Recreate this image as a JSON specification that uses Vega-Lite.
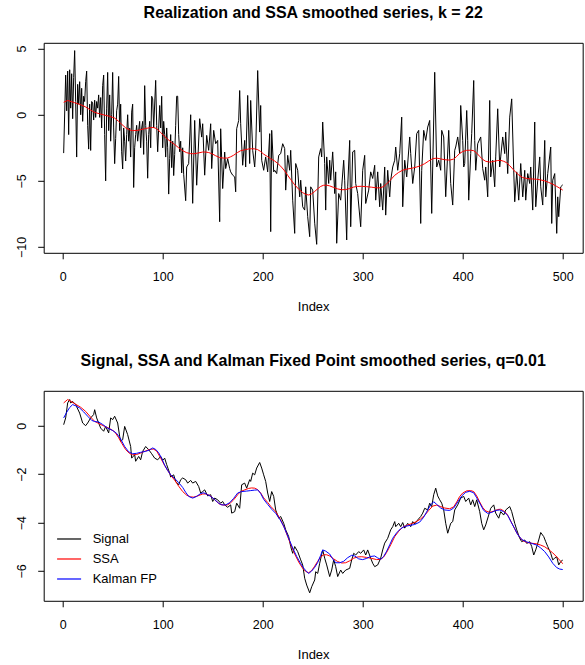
{
"$schema": "https://vega.github.io/schema/vega-lite/v6.json",
"background": "white",
"padding": {"left": 14.7, "top": 4.8, "right": 0, "bottom": 0},
"datasets": {
"real": [
{"i":1,"v":-2.9},{"i":3,"v":3.0},{"i":4,"v":0.3},{"i":5,"v":3.3},{"i":6,"v":-1.5},{"i":7,"v":3.4},{"i":8,"v":0.5},{"i":9,"v":3.1},{"i":10,"v":-0.3},{"i":11,"v":2.8},{"i":12,"v":4.85},{"i":13,"v":1.0},{"i":14,"v":-3.2},{"i":15,"v":2.3},{"i":16,"v":0.8},{"i":17,"v":2.5},{"i":18,"v":0.0},{"i":19,"v":2.0},{"i":20,"v":-0.5},{"i":21,"v":1.4},{"i":22,"v":1.0},{"i":23,"v":2.5},{"i":24,"v":3.3},{"i":25,"v":-0.8},{"i":26,"v":-2.6},{"i":27,"v":0.8},{"i":28,"v":-2.7},{"i":29,"v":1.0},{"i":30,"v":0.9},{"i":31,"v":-0.4},{"i":32,"v":1.1},{"i":33,"v":-0.2},{"i":34,"v":1.0},{"i":35,"v":0.5},{"i":36,"v":1.5},{"i":37,"v":-0.2},{"i":38,"v":1.3},{"i":39,"v":-1.0},{"i":40,"v":2.2},{"i":41,"v":3.0},{"i":42,"v":-1.5},{"i":43,"v":-5.0},{"i":44,"v":0.5},{"i":45,"v":3.2},{"i":46,"v":-1.2},{"i":47,"v":1.5},{"i":48,"v":-2.0},{"i":49,"v":0.0},{"i":50,"v":3.2},{"i":51,"v":-1.0},{"i":52,"v":-3.7},{"i":53,"v":-1.8},{"i":54,"v":0.3},{"i":55,"v":0.8},{"i":56,"v":2.9},{"i":57,"v":-1.2},{"i":58,"v":0.8},{"i":59,"v":-2.8},{"i":60,"v":-4.1},{"i":61,"v":-1.0},{"i":62,"v":-2.0},{"i":63,"v":-3.5},{"i":64,"v":-1.5},{"i":65,"v":0.0},{"i":66,"v":-2.0},{"i":67,"v":-1.0},{"i":68,"v":-3.2},{"i":69,"v":0.2},{"i":70,"v":0.8},{"i":71,"v":-5.5},{"i":72,"v":-2.5},{"i":73,"v":-1.5},{"i":74,"v":-0.8},{"i":75,"v":-2.0},{"i":76,"v":-1.2},{"i":77,"v":-0.5},{"i":78,"v":-2.5},{"i":79,"v":-1.0},{"i":80,"v":-0.5},{"i":81,"v":-3.0},{"i":82,"v":2.2},{"i":83,"v":-0.8},{"i":84,"v":-2.0},{"i":85,"v":-4.8},{"i":86,"v":-1.5},{"i":87,"v":-0.5},{"i":88,"v":-2.5},{"i":89,"v":1.4},{"i":90,"v":1.2},{"i":91,"v":-1.0},{"i":93,"v":2.6},{"i":94,"v":-0.8},{"i":95,"v":-2.8},{"i":96,"v":-1.0},{"i":97,"v":0.7},{"i":98,"v":-1.0},{"i":99,"v":1.4},{"i":100,"v":-2.5},{"i":101,"v":-0.5},{"i":102,"v":-1.5},{"i":103,"v":-3.2},{"i":104,"v":-1.0},{"i":105,"v":-2.5},{"i":106,"v":-6.0},{"i":107,"v":-3.3},{"i":108,"v":-1.5},{"i":109,"v":-4.0},{"i":110,"v":-2.0},{"i":111,"v":-4.6},{"i":112,"v":-3.0},{"i":113,"v":-0.8},{"i":114,"v":1.4},{"i":115,"v":1.4},{"i":116,"v":-1.5},{"i":117,"v":-2.8},{"i":118,"v":-2.0},{"i":119,"v":-4.4},{"i":120,"v":-2.5},{"i":121,"v":-4.5},{"i":123,"v":-6.5},{"i":124,"v":-3.95},{"i":126,"v":-3.7},{"i":128,"v":0.0},{"i":130,"v":-6.7},{"i":132,"v":-0.43},{"i":134,"v":-5.33},{"i":137,"v":-0.3},{"i":139,"v":-1.69},{"i":140,"v":-0.68},{"i":142,"v":-4.57},{"i":144,"v":-1.56},{"i":146,"v":-2.69},{"i":148,"v":-0.68},{"i":149,"v":-4.07},{"i":151,"v":-1.18},{"i":153,"v":-2.19},{"i":155,"v":-1.94},{"i":157,"v":-8.09},{"i":158,"v":-1.06},{"i":160,"v":-5.58},{"i":162,"v":-2.82},{"i":163,"v":-4.07},{"i":165,"v":-3.32},{"i":167,"v":-4.07},{"i":168,"v":-4.32},{"i":170,"v":-4.57},{"i":172,"v":-4.7},{"i":173,"v":-5.83},{"i":174,"v":-1.06},{"i":176,"v":-0.43},{"i":177,"v":1.83},{"i":178,"v":-0.68},{"i":180,"v":-3.82},{"i":182,"v":-1.94},{"i":183,"v":-3.95},{"i":185,"v":1.46},{"i":187,"v":-3.69},{"i":188,"v":1.08},{"i":190,"v":-2.69},{"i":192,"v":-3.95},{"i":193,"v":-2.69},{"i":195,"v":3.34},{"i":197,"v":-1.31},{"i":198,"v":0.7},{"i":199,"v":-3.44},{"i":201,"v":-4.2},{"i":203,"v":-3.19},{"i":205,"v":-4.32},{"i":207,"v":-1.43},{"i":208,"v":-8.84},{"i":209,"v":-1.18},{"i":211,"v":-4.32},{"i":212,"v":-4.2},{"i":214,"v":-4.45},{"i":216,"v":-3.07},{"i":218,"v":-2.94},{"i":220,"v":-2.19},{"i":222,"v":-2.56},{"i":223,"v":-5.7},{"i":225,"v":-3.07},{"i":227,"v":-4.2},{"i":228,"v":-2.69},{"i":230,"v":-6.46},{"i":232,"v":-8.97},{"i":233,"v":-3.69},{"i":235,"v":-4.2},{"i":237,"v":-6.21},{"i":238,"v":-4.95},{"i":240,"v":-6.96},{"i":242,"v":-7.21},{"i":243,"v":-5.45},{"i":245,"v":-7.71},{"i":247,"v":-9.22},{"i":248,"v":-5.45},{"i":250,"v":-5.7},{"i":252,"v":-8.2},{"i":254,"v":-9.8},{"i":256,"v":-3.19},{"i":258,"v":-2.56},{"i":259,"v":-3.19},{"i":260,"v":-0.55},{"i":262,"v":-3.69},{"i":263,"v":-7.21},{"i":264,"v":-3.19},{"i":266,"v":-5.2},{"i":267,"v":-3.44},{"i":268,"v":-4.95},{"i":270,"v":-2.81},{"i":272,"v":-5.96},{"i":273,"v":-4.32},{"i":274,"v":-9.72},{"i":276,"v":-5.96},{"i":278,"v":-6.46},{"i":279,"v":-5.45},{"i":281,"v":-3.44},{"i":282,"v":-4.95},{"i":284,"v":-9.47},{"i":285,"v":-5.45},{"i":287,"v":-1.94},{"i":288,"v":-8.47},{"i":290,"v":-2.81},{"i":292,"v":-2.69},{"i":293,"v":-5.2},{"i":295,"v":-5.96},{"i":298,"v":-8.47},{"i":300,"v":-4.2},{"i":302,"v":-3.07},{"i":303,"v":-6.71},{"i":306,"v":-5.7},{"i":308,"v":-4.32},{"i":310,"v":-4.82},{"i":312,"v":-3.82},{"i":313,"v":-6.46},{"i":315,"v":-4.32},{"i":317,"v":-6.96},{"i":318,"v":-5.2},{"i":320,"v":-7.21},{"i":322,"v":-3.95},{"i":323,"v":-7.59},{"i":325,"v":-4.2},{"i":327,"v":-6.21},{"i":328,"v":-4.95},{"i":330,"v":-3.95},{"i":332,"v":-3.44},{"i":333,"v":-2.44},{"i":335,"v":-4.2},{"i":337,"v":-2.94},{"i":339,"v":-0.18},{"i":340,"v":-6.96},{"i":342,"v":-3.44},{"i":344,"v":-4.7},{"i":347,"v":-1.68},{"i":348,"v":-2.94},{"i":350,"v":-5.2},{"i":352,"v":-3.95},{"i":354,"v":-1.43},{"i":356,"v":-1.18},{"i":358,"v":-8.22},{"i":359,"v":-4.2},{"i":361,"v":-1.18},{"i":363,"v":-1.94},{"i":365,"v":-0.93},{"i":367,"v":-0.43},{"i":369,"v":-7.46},{"i":370,"v":-3.95},{"i":372,"v":3.21},{"i":374,"v":-3.95},{"i":376,"v":-3.44},{"i":378,"v":-4.2},{"i":379,"v":-1.18},{"i":381,"v":-1.68},{"i":383,"v":-6.2},{"i":386,"v":-1.18},{"i":388,"v":-5.2},{"i":390,"v":-6.83},{"i":392,"v":-2.69},{"i":393,"v":-2.44},{"i":395,"v":-1.68},{"i":397,"v":-2.94},{"i":398,"v":0.7},{"i":400,"v":-1.94},{"i":401,"v":-3.95},{"i":402,"v":-3.69},{"i":404,"v":0.32},{"i":405,"v":-1.94},{"i":406,"v":-6.46},{"i":408,"v":-2.94},{"i":409,"v":-1.43},{"i":411,"v":2.59},{"i":412,"v":-1.94},{"i":413,"v":-4.2},{"i":415,"v":-2.19},{"i":418,"v":-1.68},{"i":420,"v":-4.07},{"i":422,"v":-4.95},{"i":423,"v":-3.95},{"i":425,"v":-6.21},{"i":427,"v":1.08},{"i":428,"v":-4.7},{"i":430,"v":-3.44},{"i":432,"v":-5.45},{"i":433,"v":-3.19},{"i":435,"v":0.45},{"i":437,"v":-3.95},{"i":438,"v":-3.19},{"i":440,"v":-1.68},{"i":442,"v":-2.94},{"i":443,"v":-1.31},{"i":445,"v":-4.45},{"i":447,"v":-0.18},{"i":449,"v":1.2},{"i":451,"v":-4.2},{"i":452,"v":-6.58},{"i":454,"v":-4.32},{"i":456,"v":-6.46},{"i":458,"v":-3.69},{"i":460,"v":-6.21},{"i":462,"v":-4.2},{"i":463,"v":-6.46},{"i":465,"v":-4.45},{"i":467,"v":-5.2},{"i":468,"v":-3.95},{"i":470,"v":-7.21},{"i":472,"v":-0.55},{"i":473,"v":-6.96},{"i":475,"v":-4.95},{"i":477,"v":-3.19},{"i":478,"v":-5.45},{"i":480,"v":-6.83},{"i":482,"v":-1.94},{"i":483,"v":-6.21},{"i":485,"v":-4.45},{"i":488,"v":-2.44},{"i":489,"v":-8.22},{"i":490,"v":-4.95},{"i":492,"v":-4.45},{"i":494,"v":-8.97},{"i":495,"v":-6.21},{"i":496,"v":-7.71},{"i":498,"v":-5.45},{"i":500,"v":-5.3}
],
"ssa": [
{"i":1,"v":0.94},{"i":5,"v":1.08},{"i":12,"v":0.91},{"i":18,"v":0.76},{"i":23,"v":0.59},{"i":28,"v":0.35},{"i":32,"v":0.18},{"i":37,"v":0.07},{"i":42,"v":-0.03},{"i":47,"v":-0.12},{"i":52,"v":-0.25},{"i":56,"v":-0.5},{"i":59,"v":-0.72},{"i":63,"v":-0.99},{"i":67,"v":-1.15},{"i":70,"v":-1.2},{"i":74,"v":-1.19},{"i":78,"v":-1.13},{"i":83,"v":-1.04},{"i":88,"v":-0.97},{"i":91,"v":-0.97},{"i":94,"v":-1.05},{"i":98,"v":-1.34},{"i":102,"v":-1.65},{"i":105,"v":-1.85},{"i":109,"v":-2.1},{"i":112,"v":-2.25},{"i":116,"v":-2.5},{"i":120,"v":-2.72},{"i":124,"v":-2.87},{"i":128,"v":-2.94},{"i":131,"v":-2.95},{"i":135,"v":-2.9},{"i":140,"v":-2.82},{"i":143,"v":-2.82},{"i":146,"v":-2.86},{"i":149,"v":-2.94},{"i":153,"v":-3.1},{"i":157,"v":-3.24},{"i":161,"v":-3.28},{"i":165,"v":-3.27},{"i":168,"v":-3.18},{"i":171,"v":-3.06},{"i":175,"v":-2.85},{"i":178,"v":-2.72},{"i":182,"v":-2.65},{"i":186,"v":-2.59},{"i":189,"v":-2.57},{"i":192,"v":-2.58},{"i":195,"v":-2.64},{"i":198,"v":-2.78},{"i":201,"v":-2.98},{"i":205,"v":-3.17},{"i":208,"v":-3.33},{"i":212,"v":-3.5},{"i":215,"v":-3.68},{"i":218,"v":-3.89},{"i":222,"v":-4.25},{"i":225,"v":-4.58},{"i":228,"v":-4.9},{"i":232,"v":-5.3},{"i":236,"v":-5.63},{"i":240,"v":-5.89},{"i":243,"v":-6.02},{"i":246,"v":-6.07},{"i":249,"v":-5.98},{"i":252,"v":-5.8},{"i":255,"v":-5.6},{"i":258,"v":-5.42},{"i":261,"v":-5.33},{"i":264,"v":-5.33},{"i":267,"v":-5.38},{"i":271,"v":-5.5},{"i":275,"v":-5.61},{"i":279,"v":-5.67},{"i":283,"v":-5.66},{"i":287,"v":-5.58},{"i":291,"v":-5.47},{"i":295,"v":-5.42},{"i":299,"v":-5.41},{"i":304,"v":-5.44},{"i":309,"v":-5.48},{"i":314,"v":-5.53},{"i":318,"v":-5.52},{"i":321,"v":-5.42},{"i":324,"v":-5.23},{"i":328,"v":-4.92},{"i":332,"v":-4.58},{"i":336,"v":-4.36},{"i":340,"v":-4.19},{"i":345,"v":-4.1},{"i":350,"v":-4.03},{"i":354,"v":-3.95},{"i":358,"v":-3.85},{"i":362,"v":-3.7},{"i":366,"v":-3.5},{"i":370,"v":-3.32},{"i":374,"v":-3.28},{"i":378,"v":-3.34},{"i":382,"v":-3.4},{"i":387,"v":-3.43},{"i":391,"v":-3.35},{"i":394,"v":-3.15},{"i":397,"v":-2.92},{"i":400,"v":-2.78},{"i":404,"v":-2.69},{"i":408,"v":-2.68},{"i":411,"v":-2.72},{"i":414,"v":-2.9},{"i":417,"v":-3.15},{"i":420,"v":-3.38},{"i":423,"v":-3.52},{"i":427,"v":-3.58},{"i":431,"v":-3.53},{"i":435,"v":-3.46},{"i":438,"v":-3.45},{"i":441,"v":-3.52},{"i":444,"v":-3.63},{"i":447,"v":-3.85},{"i":450,"v":-4.1},{"i":453,"v":-4.35},{"i":456,"v":-4.55},{"i":460,"v":-4.75},{"i":465,"v":-4.83},{"i":470,"v":-4.86},{"i":474,"v":-4.88},{"i":478,"v":-4.93},{"i":482,"v":-5.0},{"i":486,"v":-5.12},{"i":490,"v":-5.25},{"i":494,"v":-5.42},{"i":498,"v":-5.6},{"i":500,"v":-5.7}
],
"kal": [
{"i":1,"v":0.32},{"i":4,"v":0.55},{"i":7,"v":0.75},{"i":10,"v":0.87},{"i":13,"v":0.82},{"i":17,"v":0.73},{"i":21,"v":0.57},{"i":25,"v":0.39},{"i":29,"v":0.22},{"i":32,"v":0.17},{"i":36,"v":0.15},{"i":40,"v":0.05},{"i":45,"v":-0.1},{"i":50,"v":-0.2},{"i":54,"v":-0.32},{"i":58,"v":-0.55},{"i":62,"v":-0.86},{"i":66,"v":-1.08},{"i":70,"v":-1.16},{"i":74,"v":-1.14},{"i":78,"v":-1.1},{"i":83,"v":-1.06},{"i":87,"v":-1.0},{"i":90,"v":-0.92},{"i":93,"v":-0.98},{"i":96,"v":-1.12},{"i":99,"v":-1.35},{"i":102,"v":-1.63},{"i":105,"v":-1.85},{"i":108,"v":-2.03},{"i":112,"v":-2.18},{"i":116,"v":-2.35},{"i":120,"v":-2.55},{"i":123,"v":-2.75},{"i":126,"v":-2.92},{"i":130,"v":-2.99},{"i":134,"v":-2.92},{"i":138,"v":-2.8},{"i":141,"v":-2.77},{"i":145,"v":-2.85},{"i":148,"v":-2.92},{"i":152,"v":-3.05},{"i":156,"v":-3.2},{"i":159,"v":-3.27},{"i":163,"v":-3.27},{"i":167,"v":-3.18},{"i":171,"v":-3.0},{"i":175,"v":-2.78},{"i":179,"v":-2.72},{"i":184,"v":-2.7},{"i":188,"v":-2.68},{"i":192,"v":-2.66},{"i":195,"v":-2.65},{"i":198,"v":-2.8},{"i":201,"v":-3.04},{"i":205,"v":-3.25},{"i":209,"v":-3.45},{"i":213,"v":-3.62},{"i":217,"v":-3.85},{"i":221,"v":-4.15},{"i":224,"v":-4.45},{"i":227,"v":-4.75},{"i":230,"v":-5.05},{"i":234,"v":-5.4},{"i":238,"v":-5.7},{"i":241,"v":-5.88},{"i":244,"v":-6.03},{"i":246,"v":-6.1},{"i":249,"v":-6.0},{"i":252,"v":-5.85},{"i":255,"v":-5.65},{"i":258,"v":-5.35},{"i":260,"v":-5.13},{"i":263,"v":-5.18},{"i":267,"v":-5.3},{"i":270,"v":-5.5},{"i":273,"v":-5.66},{"i":277,"v":-5.66},{"i":281,"v":-5.6},{"i":285,"v":-5.45},{"i":289,"v":-5.35},{"i":292,"v":-5.38},{"i":296,"v":-5.5},{"i":300,"v":-5.53},{"i":304,"v":-5.48},{"i":308,"v":-5.4},{"i":312,"v":-5.38},{"i":315,"v":-5.46},{"i":318,"v":-5.52},{"i":321,"v":-5.4},{"i":324,"v":-5.18},{"i":327,"v":-4.92},{"i":330,"v":-4.65},{"i":334,"v":-4.42},{"i":338,"v":-4.25},{"i":342,"v":-4.16},{"i":347,"v":-4.12},{"i":352,"v":-4.08},{"i":357,"v":-3.98},{"i":361,"v":-3.78},{"i":365,"v":-3.48},{"i":368,"v":-3.27},{"i":371,"v":-3.14},{"i":374,"v":-3.25},{"i":378,"v":-3.4},{"i":382,"v":-3.48},{"i":387,"v":-3.5},{"i":391,"v":-3.4},{"i":395,"v":-3.15},{"i":399,"v":-2.9},{"i":403,"v":-2.75},{"i":407,"v":-2.71},{"i":411,"v":-2.77},{"i":414,"v":-2.98},{"i":418,"v":-3.27},{"i":421,"v":-3.5},{"i":425,"v":-3.62},{"i":429,"v":-3.58},{"i":433,"v":-3.5},{"i":437,"v":-3.48},{"i":441,"v":-3.55},{"i":445,"v":-3.7},{"i":448,"v":-3.95},{"i":452,"v":-4.25},{"i":455,"v":-4.5},{"i":459,"v":-4.7},{"i":464,"v":-4.8},{"i":469,"v":-4.86},{"i":474,"v":-4.93},{"i":478,"v":-5.05},{"i":482,"v":-5.2},{"i":486,"v":-5.42},{"i":490,"v":-5.68},{"i":494,"v":-5.86},{"i":497,"v":-5.92},{"i":500,"v":-5.94}
],
"sig": [
{"i":1,"v":0.04},{"i":3,"v":0.32},{"i":5,"v":0.94},{"i":7,"v":1.08},{"i":8,"v":0.94},{"i":10,"v":1.0},{"i":13,"v":0.87},{"i":17,"v":0.52},{"i":20,"v":0.11},{"i":23,"v":0.0},{"i":25,"v":0.11},{"i":28,"v":0.32},{"i":31,"v":0.46},{"i":32,"v":0.66},{"i":34,"v":0.32},{"i":38,"v":-0.1},{"i":41,"v":-0.23},{"i":43,"v":-0.03},{"i":46,"v":-0.3},{"i":48,"v":0.32},{"i":50,"v":0.25},{"i":52,"v":0.39},{"i":55,"v":0.11},{"i":57,"v":-0.44},{"i":58,"v":-0.65},{"i":60,"v":-0.58},{"i":62,"v":-0.03},{"i":65,"v":-0.37},{"i":68,"v":-0.86},{"i":69,"v":-1.34},{"i":72,"v":-1.2},{"i":73,"v":-1.47},{"i":76,"v":-1.27},{"i":78,"v":-1.41},{"i":80,"v":-1.06},{"i":83,"v":-0.86},{"i":86,"v":-0.99},{"i":89,"v":-1.16},{"i":92,"v":-1.34},{"i":95,"v":-1.41},{"i":98,"v":-1.27},{"i":100,"v":-1.43},{"i":102,"v":-1.34},{"i":104,"v":-1.61},{"i":107,"v":-1.96},{"i":108,"v":-2.12},{"i":111,"v":-2.03},{"i":113,"v":-2.3},{"i":116,"v":-2.44},{"i":118,"v":-2.23},{"i":120,"v":-2.16},{"i":123,"v":-2.23},{"i":125,"v":-2.37},{"i":128,"v":-2.26},{"i":130,"v":-2.37},{"i":133,"v":-2.3},{"i":136,"v":-2.51},{"i":138,"v":-2.78},{"i":140,"v":-2.72},{"i":142,"v":-2.65},{"i":145,"v":-2.9},{"i":148,"v":-2.85},{"i":150,"v":-3.13},{"i":152,"v":-2.99},{"i":155,"v":-3.06},{"i":158,"v":-3.2},{"i":160,"v":-3.13},{"i":162,"v":-3.27},{"i":165,"v":-3.37},{"i":168,"v":-3.27},{"i":169,"v":-3.61},{"i":172,"v":-3.55},{"i":174,"v":-3.2},{"i":177,"v":-3.41},{"i":179,"v":-2.44},{"i":182,"v":-2.37},{"i":184,"v":-2.58},{"i":187,"v":-2.23},{"i":188,"v":-2.3},{"i":190,"v":-1.96},{"i":192,"v":-2.03},{"i":194,"v":-1.75},{"i":197,"v":-1.52},{"i":199,"v":-1.75},{"i":201,"v":-2.03},{"i":203,"v":-2.3},{"i":205,"v":-2.78},{"i":207,"v":-3.13},{"i":209,"v":-2.72},{"i":211,"v":-2.92},{"i":213,"v":-3.48},{"i":216,"v":-3.82},{"i":218,"v":-3.75},{"i":221,"v":-4.03},{"i":223,"v":-4.3},{"i":226,"v":-4.58},{"i":228,"v":-4.99},{"i":230,"v":-5.27},{"i":232,"v":-4.99},{"i":235,"v":-5.2},{"i":238,"v":-5.54},{"i":240,"v":-5.75},{"i":242,"v":-6.3},{"i":244,"v":-6.58},{"i":247,"v":-6.9},{"i":249,"v":-6.65},{"i":252,"v":-6.37},{"i":253,"v":-6.03},{"i":255,"v":-6.1},{"i":257,"v":-5.68},{"i":260,"v":-5.13},{"i":262,"v":-5.47},{"i":264,"v":-5.75},{"i":267,"v":-6.23},{"i":269,"v":-5.96},{"i":271,"v":-5.54},{"i":273,"v":-5.82},{"i":275,"v":-6.23},{"i":278,"v":-5.96},{"i":280,"v":-6.1},{"i":283,"v":-5.96},{"i":287,"v":-5.89},{"i":289,"v":-5.54},{"i":291,"v":-5.27},{"i":293,"v":-5.34},{"i":296,"v":-5.2},{"i":298,"v":-5.27},{"i":301,"v":-5.13},{"i":303,"v":-5.34},{"i":305,"v":-5.13},{"i":308,"v":-5.47},{"i":310,"v":-5.68},{"i":312,"v":-5.82},{"i":315,"v":-5.75},{"i":318,"v":-5.47},{"i":320,"v":-5.13},{"i":322,"v":-4.85},{"i":325,"v":-4.65},{"i":328,"v":-4.3},{"i":330,"v":-4.17},{"i":332,"v":-3.96},{"i":333,"v":-4.17},{"i":336,"v":-4.03},{"i":338,"v":-4.17},{"i":340,"v":-4.0},{"i":342,"v":-4.23},{"i":345,"v":-4.03},{"i":348,"v":-4.17},{"i":350,"v":-3.96},{"i":352,"v":-4.06},{"i":355,"v":-3.89},{"i":358,"v":-3.75},{"i":360,"v":-3.61},{"i":362,"v":-3.41},{"i":365,"v":-3.48},{"i":367,"v":-3.2},{"i":369,"v":-3.34},{"i":371,"v":-2.85},{"i":373,"v":-2.58},{"i":375,"v":-2.9},{"i":377,"v":-3.06},{"i":379,"v":-3.2},{"i":381,"v":-3.48},{"i":383,"v":-4.03},{"i":385,"v":-4.44},{"i":388,"v":-4.03},{"i":390,"v":-3.96},{"i":392,"v":-3.48},{"i":395,"v":-3.27},{"i":398,"v":-2.99},{"i":401,"v":-2.92},{"i":403,"v":-3.13},{"i":406,"v":-2.99},{"i":408,"v":-3.27},{"i":410,"v":-3.06},{"i":412,"v":-3.34},{"i":414,"v":-3.06},{"i":417,"v":-3.55},{"i":419,"v":-4.03},{"i":421,"v":-4.3},{"i":423,"v":-4.1},{"i":426,"v":-3.69},{"i":428,"v":-3.41},{"i":431,"v":-3.27},{"i":433,"v":-3.61},{"i":436,"v":-3.82},{"i":438,"v":-3.55},{"i":441,"v":-3.69},{"i":443,"v":-3.48},{"i":447,"v":-3.34},{"i":449,"v":-3.55},{"i":452,"v":-4.03},{"i":454,"v":-4.3},{"i":457,"v":-4.65},{"i":459,"v":-4.79},{"i":462,"v":-4.72},{"i":464,"v":-4.86},{"i":467,"v":-4.79},{"i":469,"v":-4.99},{"i":471,"v":-5.34},{"i":473,"v":-5.13},{"i":476,"v":-4.72},{"i":478,"v":-4.41},{"i":481,"v":-4.58},{"i":483,"v":-4.79},{"i":485,"v":-4.99},{"i":488,"v":-5.27},{"i":490,"v":-5.54},{"i":492,"v":-5.47},{"i":494,"v":-5.41},{"i":496,"v":-5.75},{"i":498,"v":-5.61},{"i":500,"v":-5.55}
]
},
"vconcat": [
{
"width": 539, "height": 210,
"title": {"text": "Realization and SSA smoothed series, k = 22"},
"layer": [
{"data": {"name": "real"}, "mark": {"type": "line", "color": "black", "strokeWidth": 1},
 "encoding": {
  "x": {"field": "i", "type": "quantitative", "scale": {"domain": [-18.96, 519.96], "nice": false, "zero": false}, "axis": {"values": [0,100,200,300,400,500], "title": "Index"}},
  "y": {"field": "v", "type": "quantitative", "scale": {"domain": [-10.44, 5.44], "nice": false, "zero": false}, "axis": {"values": [-10,-5,0,5], "title": null}}}},
{"data": {"name": "ssa"}, "mark": {"type": "line", "color": "red", "strokeWidth": 1},
 "encoding": {"x": {"field": "i", "type": "quantitative"}, "y": {"field": "v", "type": "quantitative"}}}
]
},
{
"width": 539, "height": 210,
"title": {"text": "Signal, SSA and Kalman Fixed Point smoothed series, q=0.01"},
"layer": [
{"data": {"name": "sig"}, "mark": {"type": "line", "strokeWidth": 1},
 "encoding": {
  "x": {"field": "i", "type": "quantitative", "scale": {"domain": [-18.96, 519.96], "nice": false, "zero": false}, "axis": {"values": [0,100,200,300,400,500], "title": "Index"}},
  "y": {"field": "v", "type": "quantitative", "scale": {"domain": [-7.23, 1.44], "nice": false, "zero": false}, "axis": {"values": [-6,-4,-2,0], "title": null}},
  "color": {"datum": "Signal", "type": "nominal", "scale": {"domain": ["Signal", "SSA", "Kalman FP"], "range": ["#000000", "#FF0000", "#0000FF"]},
   "legend": {"orient": "none", "legendX": 12.4, "legendY": 483.2, "title": null, "symbolType": "stroke", "symbolSize": 576, "symbolStrokeWidth": 1.2, "labelFontSize": 13, "labelFont": "Liberation Sans", "labelColor": "black", "labelOffset": 10.6, "rowPadding": -0.5, "padding": 0}}}},
{"data": {"name": "ssa"}, "mark": {"type": "line", "strokeWidth": 1},
 "encoding": {"x": {"field": "i", "type": "quantitative"}, "y": {"field": "v", "type": "quantitative"}, "color": {"datum": "SSA", "type": "nominal"}}},
{"data": {"name": "kal"}, "mark": {"type": "line", "strokeWidth": 1},
 "encoding": {"x": {"field": "i", "type": "quantitative"}, "y": {"field": "v", "type": "quantitative"}, "color": {"datum": "Kalman FP", "type": "nominal"}}}
]
}
],
"spacing": 138,
"bounds": "flush",
"config": {
"font": "Liberation Sans",
"view": {"stroke": "black", "strokeWidth": 1},
"title": {"font": "Liberation Sans", "fontSize": 16, "fontWeight": "bold", "color": "black", "offset": 21.5, "baseline": "alphabetic", "anchor": "middle"},
"axis": {"domain": false, "grid": false, "ticks": true, "tickColor": "black", "tickSize": 6, "labelFont": "Liberation Sans", "labelFontSize": 12.5, "labelColor": "black", "labelPadding": 11.5, "labelFlush": false, "labelOverlap": false, "titleFont": "Liberation Sans", "titleFontSize": 13, "titleFontWeight": "normal", "titleColor": "black"},
"axisX": {"titlePadding": 17.5},
"axisY": {"labelAngle": -90, "labelAlign": "center", "labelBaseline": "bottom", "labelPadding": 9}
}
}
